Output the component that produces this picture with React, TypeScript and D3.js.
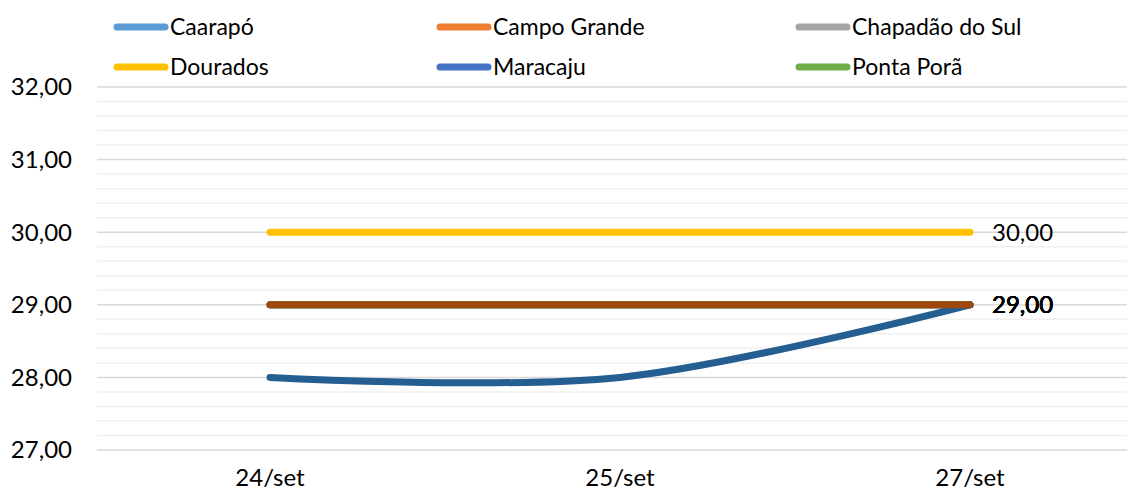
import React, { useEffect, useRef } from 'react';
import * as d3 from 'd3';

// categories (x axis)
const dates = ['24/set', '25/set', '27/set'];

// series shown in the legend
const caarapo = [29, 29, 29];
const campoGrande = [29, 29, 29];
const chapadaoDoSul = [29, 29, 29];
const dourados = [30, 30, 30];
const maracaju = [29, 29, 29];
const pontaPora = [29, 29, 29];
// two more series are plotted but not listed in the legend
const serie7 = [28, 28, 29];
const serie8 = [29, 29, 29];

const yTicks = [27, 28, 29, 30, 31, 32];

const series = [
  { name: 'Caarapó', values: caarapo, color: '#5B9BD5', legend: true },
  { name: 'Campo Grande', values: campoGrande, color: '#ED7D31', legend: true },
  { name: 'Chapadão do Sul', values: chapadaoDoSul, color: '#A5A5A5', legend: true },
  { name: 'Dourados', values: dourados, color: '#FFC000', legend: true },
  { name: 'Maracaju', values: maracaju, color: '#4472C4', legend: true },
  { name: 'Ponta Porã', values: pontaPora, color: '#70AD47', legend: true },
  { name: 'Série 7', values: serie7, color: '#255E91', legend: false },
  { name: 'Série 8', values: serie8, color: '#9E480E', legend: false },
];

const W = 1127;
const H = 496;
const FONT = 'Lato, "Open Sans", sans-serif';

const fmt = (v: number) => v.toFixed(2).replace('.', ',');

const App = () => {
  const svgRef = useRef<SVGSVGElement>(null);

  useEffect(() => {
    const svg = d3.select(svgRef.current);
    svg.selectAll('*').remove();

    const x = d3.scalePoint<string>().domain(dates).range([95, 1145]).padding(0.5);
    const y = d3.scaleLinear().domain([27, 32]).range([450, 87]);

    // minor gridlines
    const minor = d3.range(27, 32.001, 0.2).filter(v => Math.abs(v - Math.round(v)) > 1e-6);
    svg.append('g')
      .selectAll('line')
      .data(minor)
      .join('line')
      .attr('x1', 97)
      .attr('x2', W)
      .attr('y1', d => y(d))
      .attr('y2', d => y(d))
      .attr('stroke', '#f0f0f0')
      .attr('stroke-width', 1.5);

    // major gridlines
    svg.append('g')
      .selectAll('line')
      .data(yTicks)
      .join('line')
      .attr('x1', 97)
      .attr('x2', W)
      .attr('y1', d => y(d))
      .attr('y2', d => y(d))
      .attr('stroke', '#d9d9d9')
      .attr('stroke-width', 1.5);

    // y axis labels
    svg.append('g')
      .selectAll('text')
      .data(yTicks)
      .join('text')
      .attr('x', 72)
      .attr('y', d => y(d))
      .attr('dy', '0.35em')
      .attr('text-anchor', 'end')
      .attr('font-family', FONT)
      .attr('font-size', 24)
      .attr('fill', '#000')
      .text(d => fmt(d));

    // x axis labels
    svg.append('g')
      .selectAll('text')
      .data(dates)
      .join('text')
      .attr('x', d => x(d)!)
      .attr('y', 486)
      .attr('text-anchor', 'middle')
      .attr('font-family', FONT)
      .attr('font-size', 24)
      .attr('fill', '#000')
      .text(d => d);

    // lines
    const line = d3.line<number>()
      .x((_, i) => x(dates[i])!)
      .y(d => y(d))
      .curve(d3.curveCardinal.tension(0));

    svg.append('g')
      .selectAll('path')
      .data(series)
      .join('path')
      .attr('d', s => line(s.values))
      .attr('fill', 'none')
      .attr('stroke', s => s.color)
      .attr('stroke-width', 7)
      .attr('stroke-linecap', 'round')
      .attr('stroke-linejoin', 'round');

    // data labels at the last point
    const last = dates.length - 1;
    svg.append('g')
      .selectAll('text')
      .data(series)
      .join('text')
      .attr('x', x(dates[last])! + 22)
      .attr('y', s => y(s.values[last]))
      .attr('dy', '0.35em')
      .attr('font-family', FONT)
      .attr('font-size', 24)
      .attr('fill', '#000')
      .text(s => fmt(s.values[last]));

    // legend
    const legendCols = [114, 437, 796];
    const legendRows = [27, 67];
    const items = series.filter(s => s.legend);
    const lg = svg.append('g')
      .selectAll('g')
      .data(items)
      .join('g')
      .attr('transform', (_, i) => `translate(${legendCols[i % 3]},${legendRows[Math.floor(i / 3)]})`);
    lg.append('line')
      .attr('x1', 3)
      .attr('x2', 51)
      .attr('stroke', s => s.color)
      .attr('stroke-width', 7)
      .attr('stroke-linecap', 'round');
    lg.append('text')
      .attr('x', 56)
      .attr('dy', '0.35em')
      .attr('font-family', FONT)
      .attr('font-size', 23)
      .attr('fill', '#000')
      .text(s => s.name);
  }, []);

  return (
    <svg
      ref={svgRef}
      width={W}
      height={H}
      style={{ position: 'absolute', left: 0, top: 0, background: '#fff' }}
    />
  );
};

export default App;
